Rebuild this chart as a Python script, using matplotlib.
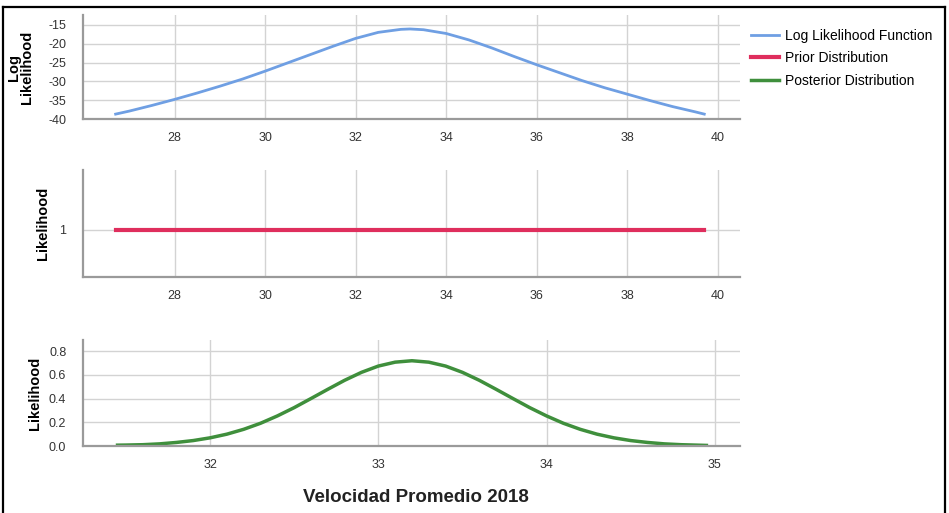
import matplotlib
matplotlib.use("Agg")
import matplotlib.pyplot as plt
from matplotlib.lines import Line2D

# data
loglik_x = [26.7, 27.0, 27.5, 28.0, 28.5, 29.0, 29.5, 30.0, 30.5, 31.0, 31.5, 32.0, 32.5,
            33.0, 33.2, 33.5, 34.0, 34.5, 35.0, 35.5, 36.0, 36.5, 37.0, 37.5, 38.0, 38.5,
            39.0, 39.5, 39.7]
loglik_y = [-38.7, -37.9, -36.4, -34.8, -33.1, -31.3, -29.4, -27.3, -25.1, -22.9, -20.7, -18.6, -17.0,
            -16.2, -16.1, -16.3, -17.3, -19.0, -21.1, -23.4, -25.6, -27.7, -29.8, -31.7, -33.4, -35.1,
            -36.7, -38.1, -38.7]

prior_x = [26.7, 39.7]
prior_y = [1, 1]

post_x = [31.45, 31.5, 31.6, 31.7, 31.8, 31.9, 32.0, 32.1, 32.2, 32.3, 32.4, 32.5, 32.6, 32.7,
          32.8, 32.9, 33.0, 33.1, 33.2, 33.3, 33.4, 33.5, 33.6, 33.7, 33.8, 33.9, 34.0, 34.1,
          34.2, 34.3, 34.4, 34.5, 34.6, 34.7, 34.8, 34.9, 34.95]
post_y = [0.007, 0.008, 0.011, 0.018, 0.030, 0.046, 0.069, 0.100, 0.141, 0.192, 0.254, 0.324, 0.401, 0.479,
          0.555, 0.622, 0.675, 0.708, 0.720, 0.708, 0.675, 0.622, 0.555, 0.479, 0.401, 0.324, 0.254, 0.192,
          0.141, 0.100, 0.069, 0.046, 0.030, 0.018, 0.011, 0.007, 0.005]

ticks_top = [28, 30, 32, 34, 36, 38, 40]
yticks_top = [-15, -20, -25, -30, -35, -40]
ticks_post = [32, 33, 34, 35]
yticks_post = [0.0, 0.2, 0.4, 0.6, 0.8]

labels = ["Log Likelihood Function", "Prior Distribution", "Posterior Distribution"]
colors = ["#6f9fe3", "#df2e5d", "#3f8f3c"]

plt.rcParams['font.family'] = ['Liberation Sans', 'DejaVu Sans']
plt.rcParams['axes.unicode_minus'] = False

GRID = "#d3d3d3"
SPINE = "#9a9a9a"


def style_axes(ax):
    for s in ("top", "right"):
        ax.spines[s].set_visible(False)
    for s in ("left", "bottom"):
        ax.spines[s].set_color(SPINE)
        ax.spines[s].set_linewidth(1.6)
    ax.grid(True, color=GRID, linewidth=1.0)
    ax.set_axisbelow(True)
    ax.tick_params(length=0, labelsize=9, colors="#333333")
    ax.tick_params(axis="x", pad=9)
    ax.tick_params(axis="y", pad=12)


fig = plt.figure(figsize=(9.49, 5.13), dpi=100)

ax1 = fig.add_axes([0.0875, 0.768, 0.6923, 0.2027])
ax2 = fig.add_axes([0.0875, 0.460, 0.6923, 0.2086])
ax3 = fig.add_axes([0.0875, 0.1306, 0.6923, 0.2066])

l1, = ax1.plot(loglik_x, loglik_y, color=colors[0], linewidth=2.0)
ax1.set_xlim(25.98, 40.49)
ax1.set_ylim(-40, -12.4)
ax1.set_xticks(ticks_top)
ax1.set_yticks(yticks_top)
style_axes(ax1)
ax1.set_ylabel("Log\nLikelihood", fontsize=10.5, fontweight="bold", linespacing=0.9)
ax1.yaxis.set_label_coords(-0.075, 0.5)

l2, = ax2.plot(prior_x, prior_y, color=colors[1], linewidth=3.0)
ax2.set_xlim(25.98, 40.49)
ax2.set_ylim(0.89, 1.14)
ax2.set_xticks(ticks_top)
ax2.set_yticks([1])
ax2.set_yticklabels(["1"])
style_axes(ax2)
ax2.set_ylabel("Likelihood", fontsize=10.5, fontweight="bold")
ax2.yaxis.set_label_coords(-0.05, 0.5)

l3, = ax3.plot(post_x, post_y, color=colors[2], linewidth=2.5)
ax3.set_xlim(31.245, 35.15)
ax3.set_ylim(0, 0.895)
ax3.set_xticks(ticks_post)
ax3.set_yticks(yticks_post)
ax3.set_yticklabels(["%.1f" % v for v in yticks_post])
style_axes(ax3)
ax3.set_ylabel("Likelihood", fontsize=10.5, fontweight="bold")
ax3.yaxis.set_label_coords(-0.062, 0.5)

fig.text(416 / 949, 1 - 497 / 513, "Velocidad Promedio 2018", ha="center", va="center",
         fontsize=13.5, fontweight="bold", color="#222222")

fig.legend([l1, l2, l3], labels, loc="upper left", bbox_to_anchor=(0.786, 0.955),
           frameon=False, fontsize=10, handlelength=2.0, handletextpad=0.4,
           labelspacing=0.62, borderaxespad=0)

# black frame round the picture
frame_kw = dict(color="black", linewidth=1.6, transform=fig.transFigure)
fig.add_artist(Line2D([0.0032, 0.0032], [0, 0.9864], **frame_kw))
fig.add_artist(Line2D([0.0032, 0.9958], [0.9864, 0.9864], **frame_kw))
fig.add_artist(Line2D([0.9958, 0.9958], [0, 0.9864], **frame_kw))

fig.savefig("out.png", dpi=100)
